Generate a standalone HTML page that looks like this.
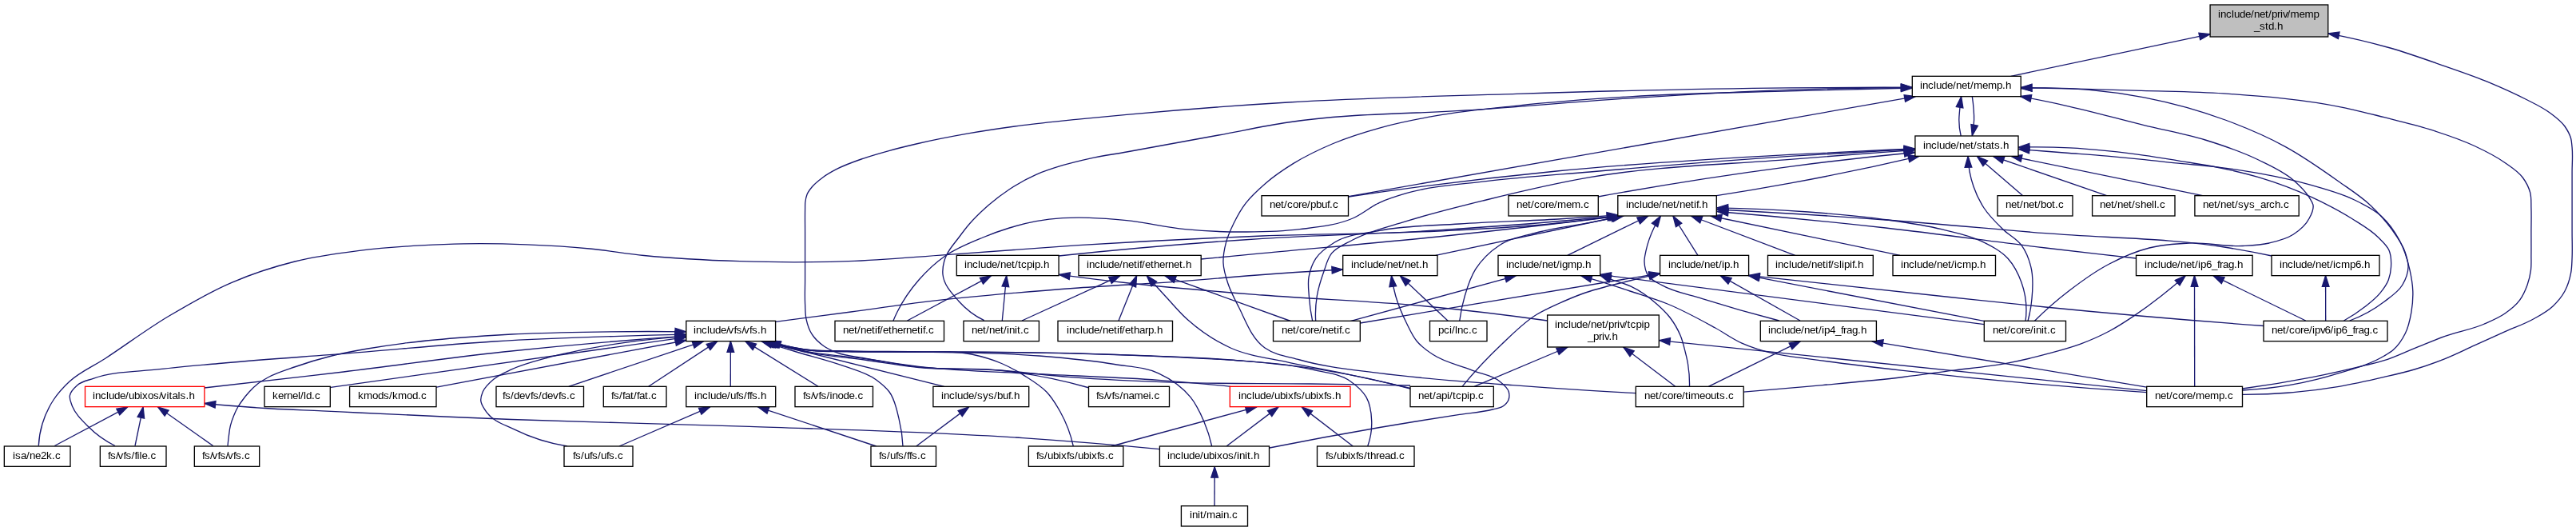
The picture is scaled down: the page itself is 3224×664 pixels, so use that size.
<!DOCTYPE html>
<html><head><meta charset="utf-8"><title>include/net/priv/memp_std.h</title>
<style>html,body{margin:0;padding:0;background:#fff}svg{display:block}text{font-family:"Liberation Sans",sans-serif;font-size:13.4px;fill:#000;font-variant-ligatures:none;font-kerning:none}.t{filter:url(#gs)}.e{fill:none;stroke:#191970;stroke-width:1.33}.a{fill:#191970;stroke:#191970;stroke-width:1.33}.n{fill:#fff;stroke:#000;stroke-width:1.33}.r{fill:#fff;stroke:#f00;stroke-width:1.33}.g{fill:#bfbfbf;stroke:#000;stroke-width:1.33}</style></head><body>
<svg width="3224" height="664" viewBox="0 0 3224 664">
<defs><filter id="gs" x="0" y="0" width="3224" height="664" filterUnits="userSpaceOnUse" color-interpolation-filters="sRGB"><feColorMatrix type="saturate" values="0"/></filter></defs>
<rect x="0" y="0" width="3224" height="664" fill="#fff"/>
<g>
<path class="e" d="M68.3,557.5L159.8,508.8"/>
<polygon class="a" points="159.8,508.8 149.8,519 145.8,511.3"/>
<path class="e" d="M169,557.5L179.1,508.9"/>
<polygon class="a" points="179.1,508.9 180.6,523.1 172.1,521.3"/>
<path class="e" d="M266.7,557.5L197.5,508.8"/>
<polygon class="a" points="197.5,508.8 211.1,513.1 206.1,520.2"/>
<path class="e" d="M1451,561.6C1394.1,556.2 1337.1,551.6 1280,547.7C1166.2,539.9 1052,537.3 938,533.3C838.7,529.8 739.3,528.3 640,524.5C575.8,522 511.7,519 447.5,516C432.7,515.3 417.8,514.6 403,513.9C382,512.9 361,512.2 340,511C312,509.3 284,507.2 256,504.5"/>
<polygon class="a" points="256,504.5 270,501.5 269.1,510.1"/>
<path class="e" d="M48.3,557.5C48.7,548.2 50.3,538.9 53,530C56.2,519.4 60.9,509.2 67,500C72.6,491.5 79.6,483.9 87,477C100,464.9 116.9,457.9 131.8,448.2C158.3,430.9 183.7,411.7 210.9,395.5C236.6,380.2 262.5,365 290,353.3C315.5,342.4 342.1,333.7 369,327C394.9,320.6 421.5,317.1 448,313.7C474.2,310.4 500.6,308.4 527,306.9C544.7,305.9 562.3,305.1 580,304.8C606.3,304.3 632.7,304.8 659,305.8C685.4,306.8 711.7,308.4 738,311C760.7,313.2 783.3,317.2 806,319.5C845.9,323.5 885.9,325.4 926,326.7C948.7,327.4 971.3,327.8 994,327.8C1016.7,327.8 1039.3,327.5 1062,326.7C1102.7,325.3 1143.3,321.4 1184,318.6C1239.3,314.8 1294.6,310.2 1350,306.7C1426.6,301.9 1503.3,298 1580,295C1653.3,292.2 1726.7,292.7 1800,289C1850,286.5 1900.2,284.3 1950,279C1975.1,276.4 2000.2,273.2 2025.2,269.6"/>
<polygon class="a" points="2025.2,269.6 2012.4,275.9 2011.1,267.2"/>
<path class="e" d="M144,557.5C131.5,551.3 119.8,542.9 110,533C102.2,525.2 93.7,517.1 90,506.7C88.7,502.9 86.8,499 87.3,495C88,489.6 92.6,485.3 96.7,481.7C102.1,476.9 109.9,475.7 116.7,473.3C143.1,463.8 172.2,465 200,461.7C226.6,458.6 253.3,456.4 280,454C332.5,449.3 385.1,445.9 437.6,441.7C497.7,436.9 557.6,430.7 617.8,427C670.3,423.8 722.8,421.9 775.4,420.3C803.1,419.4 830.9,418.7 858.6,418.2"/>
<polygon class="a" points="858.6,418.2 845.1,422.8 844.9,414.1"/>
<path class="e" d="M285,557.5C285.4,553.3 285.8,549.2 286.4,545C286.9,540.9 287.3,536.7 288.3,532.7C289.3,528.4 290.8,524.1 292.5,520C294,516.2 295.7,512.5 297.7,509C299.5,505.9 301.6,502.9 303.8,500C306.2,496.7 308.8,493.5 311.5,490.5C314.9,486.7 318.5,483.1 322.5,480C326.8,476.7 331.5,474.1 336.3,471.5C346.9,465.8 358.6,462.5 370,458.5C384.8,453.3 399.9,448.8 415.1,445C429.9,441.3 445,438.6 460.1,436C475.1,433.4 490.1,431.2 505.2,429.3C527.6,426.4 550.2,424.4 572.7,422.5C595.2,420.6 617.7,419.1 640.3,418C670.3,416.5 700.4,415.9 730.4,415.3C773.1,414.5 815.9,414.3 858.6,414.8"/>
<polygon class="a" points="858.6,414.8 845,419 845.1,410.3"/>
<path class="e" d="M255.6,485C313.8,478.6 371.9,471.9 430,465C496.7,457 563.2,447.1 630,440C706.1,431.9 782.3,425.3 858.6,420.2"/>
<polygon class="a" points="858.6,420.2 845.3,425.4 844.7,416.8"/>
<path class="e" d="M414,484.4L858.6,421.7"/>
<polygon class="a" points="858.6,421.7 845.7,427.9 844.5,419.3"/>
<path class="e" d="M545,484.3L859,425.5"/>
<polygon class="a" points="859,425.5 846.4,432.3 844.8,423.7"/>
<path class="e" d="M710,558C686.8,554.4 664,547.1 643,536.7C631.5,531 617.7,527 610,516.7C606.3,511.7 601.7,506.2 601.7,500C601.7,496.6 602.9,493.2 604.2,490C606.9,483.6 612.5,478.8 617.8,474.3C624.4,468.8 632.5,465.5 640.3,461.9C654.6,455.2 670.1,451.5 685.3,447.3C700.2,443.2 715.3,440.2 730.4,437.2C745.3,434.2 760.3,431.5 775.4,429.3C803,425.2 830.8,422.4 858.6,420.9"/>
<polygon class="a" points="858.6,420.9 845.3,426 844.8,417.3"/>
<path class="e" d="M711.7,483.3L880.5,426.6"/>
<polygon class="a" points="880.5,426.6 869,435.1 866.2,426.8"/>
<path class="e" d="M811.7,483.3L897.9,426.6"/>
<polygon class="a" points="897.9,426.6 888.9,437.7 884.1,430.4"/>
<path class="e" d="M914.3,483.3L914.4,426.7"/>
<polygon class="a" points="914.4,426.7 918.7,440.3 910,440.3"/>
<path class="e" d="M1024,483.3L932.8,426.6"/>
<polygon class="a" points="932.8,426.6 946.6,430.1 942.1,437.5"/>
<path class="e" d="M775,558L888.7,508.8"/>
<polygon class="a" points="888.7,508.8 877.9,518.2 874.5,510.2"/>
<path class="e" d="M1096.7,558L948.5,508.8"/>
<polygon class="a" points="948.5,508.8 962.8,509 960,517.2"/>
<path class="e" d="M1146.7,558L1212.6,508.9"/>
<polygon class="a" points="1212.6,508.9 1204.3,520.5 1199.1,513.5"/>
<path class="e" d="M1130,558C1129.5,546.3 1127.8,534.6 1125,523.3C1122.1,511.9 1120.1,499.4 1113,490C1108.6,484.1 1102.6,479.4 1096.7,475C1084,465.6 1067.9,462.1 1053,456.7C1035.7,450.4 1017.6,446.3 1000,441C984.3,436.3 968.7,431.5 953,426.7"/>
<polygon class="a" points="953,426.7 967.3,426.5 964.7,434.9"/>
<path class="e" d="M1181.7,483.3L954.5,426.7"/>
<polygon class="a" points="954.5,426.7 968.7,425.8 966.6,434.2"/>
<path class="e" d="M1363.3,485C1326.3,474.5 1288.2,467.1 1250,463C1216.8,459.4 1183.2,462.7 1150,459.5C1127.2,457.3 1104.7,453.1 1082,450C1057,446.6 1031.7,445.1 1007,440C989.8,436.4 972.8,432 956,426.7"/>
<polygon class="a" points="956,426.7 970.3,426.6 967.7,434.9"/>
<path class="e" d="M1540,483.3C1510,480.2 1480,477.5 1450,475.3C1400.1,471.6 1350,470.5 1300,467.7C1250,464.9 1199.8,464.2 1150,458.3C1127.3,455.6 1104.7,451.6 1082,448.5C1057,445.1 1031.7,443.9 1007,439C990.3,435.7 973.8,431.6 957.5,426.7"/>
<polygon class="a" points="957.5,426.7 971.8,426.4 969.3,434.8"/>
<path class="e" d="M1343.3,558C1340,543 1334.5,528.4 1327,515C1322.1,506.3 1316.9,497.6 1310,490.3C1302,481.8 1291.7,475.8 1281.8,469.6C1272.8,463.9 1263.4,458.7 1253.6,454.5C1241.6,449.3 1228.8,445.7 1216,443C1190.6,437.6 1164,440.8 1138,440.3C1112,439.8 1086,440.5 1060,439.8C1042.3,439.3 1024.5,440 1007,437.6C990.7,435.4 974.6,431.7 959,426.7"/>
<polygon class="a" points="959,426.7 973.3,426.7 970.6,435"/>
<path class="e" d="M1516.7,558C1514.4,547.3 1511,536.8 1506.7,526.7C1502.2,516.2 1497.2,505.6 1490,496.7C1479.5,483.7 1465.1,473.8 1450,466.8C1433,458.9 1413.3,458.6 1394.8,455.5C1363.5,450.2 1331.7,447.6 1300,445C1246.2,440.6 1192,440.8 1138,440C1112,439.6 1086,440.1 1060,439.4C1042.3,438.9 1024.5,439.6 1007,437.2C991.3,435 975.6,431.5 960.5,426.7"/>
<polygon class="a" points="960.5,426.7 974.8,426.7 972.1,435"/>
<path class="e" d="M1711.7,558C1715.3,548.1 1717.1,537.3 1716.7,526.7C1716.4,516.5 1715,505.6 1710,496.7C1705.4,488.5 1697.7,482.1 1690,476.7C1675.8,466.7 1656.9,465.7 1640,461.7C1607.3,454 1573.4,452.8 1540,450C1506.7,447.2 1473.3,446.4 1440,445C1406.7,443.6 1373.3,442.6 1340,441.7C1272.7,440 1205.3,440.2 1138,439.6C1112,439.4 1086,439.7 1060,439C1042.3,438.5 1024.5,439.2 1007,436.8C991.8,434.7 976.7,431.3 962,426.7"/>
<polygon class="a" points="962,426.7 976.3,426.6 973.7,434.9"/>
<path class="e" d="M1765,486C1730.4,476.7 1695.3,469.1 1660,463.3C1626.9,457.9 1593.4,454.6 1560,451.7C1520.1,448.2 1480,446.9 1440,445.2C1406.7,443.8 1373.3,442.7 1340,441.9C1272.7,440.2 1205.3,440.7 1138,440C1112,439.7 1086,439.9 1060,439.2C1042.3,438.7 1024.5,439.6 1007,437C992.3,434.8 977.6,431.4 963.5,426.7"/>
<polygon class="a" points="963.5,426.7 977.8,426.8 975,435.1"/>
<path class="e" d="M1765,482C1723.3,481.2 1681.7,480.6 1640,480C1584.3,479.2 1528.6,480.1 1473,478.3C1428.6,476.9 1384.3,475.1 1340,471.7C1310,469.4 1280.1,465.1 1250,463C1216.7,460.7 1183.1,462.7 1150,459C1127.1,456.4 1104.5,452 1081.8,447.8C1070.5,445.7 1058.7,445.3 1048,441.2C1042.1,438.9 1036.2,436.4 1031,432.7C1025.2,428.6 1019.8,423.7 1016,417.7C1012.4,412 1010.4,405.4 1009,398.8C1007.7,392.7 1007.9,386.3 1007.6,380C1007.1,370 1007.6,360 1007.6,350C1007.6,340 1007.6,330 1007.6,320C1007.6,310 1007.6,300 1007.6,290C1007.6,280.7 1007.4,271.3 1007.6,262C1007.7,259.1 1007.5,256.2 1007.8,253.3C1008.2,249.9 1008.7,246.5 1010,243.3C1011.5,239.6 1014.1,236.4 1016.7,233.3C1020.5,228.8 1025.3,225.2 1030,221.7C1035.2,217.9 1041,214.7 1046.7,211.7C1057.3,206.1 1068.7,202.2 1080,198.3C1090.9,194.5 1102.1,191.4 1113.3,188.3C1124.4,185.3 1135.5,182.6 1146.7,180C1168.8,174.9 1191,170.6 1213.3,166.7C1235.4,162.8 1257.7,159.6 1280,156.7C1302.2,153.8 1324.4,151.6 1346.7,149.3C1367.8,147.1 1388.9,145.2 1410,143.3C1477.3,137.2 1544.6,132 1612,128C1707.2,122.3 1802.6,120.2 1898,117.3C2012,113.8 2126,110.8 2240,109.8C2291,109.3 2342,109.2 2393,109.3"/>
<polygon class="a" points="2393,109.3 2379.4,113.6 2379.4,104.9"/>
<path class="e" d="M1391,558L1572.7,508.9"/>
<polygon class="a" points="1572.7,508.9 1560.7,516.6 1558.4,508.2"/>
<path class="e" d="M1535,558L1600,508.9"/>
<polygon class="a" points="1600,508.9 1591.8,520.6 1586.5,513.6"/>
<path class="e" d="M1693.3,558L1629.2,508.9"/>
<polygon class="a" points="1629.2,508.9 1642.6,513.7 1637.4,520.6"/>
<path class="e" d="M1520,632.7L1520.2,583.6"/>
<polygon class="a" points="1520.2,583.6 1524.5,597.2 1515.8,597.2"/>
<path class="e" d="M1589,560C1634.8,550.9 1680.7,542.4 1726.7,534.5C1760,528.8 1793.3,523.5 1826.7,518.3C1840.5,516.2 1854.6,515.6 1868,512C1872.4,510.8 1877.3,510.6 1881,508C1883.9,506 1886.7,503.3 1888,500C1889.2,496.9 1889.1,493.2 1888.3,490C1886.9,484.3 1881.2,480.5 1876.7,476.7C1867.5,469 1854.4,467.8 1843.3,463.3C1826.6,456.6 1808.2,453.3 1793.3,443.3C1786.1,438.5 1778.9,433.3 1773.3,426.7C1767.5,419.8 1764,411.3 1760,403.3C1754.7,392.6 1750,381.5 1746.7,370C1744.4,361.8 1742.6,353.3 1741.5,344.8"/>
<polygon class="a" points="1741.5,344.8 1747.6,357.7 1738.9,358.8"/>
<path class="e" d="M2047.5,491.7C2028.3,490.6 2009.2,489.5 1990,488.3C1957.7,486.3 1925.3,484 1893,481.7C1870.9,480.1 1848.8,478.6 1826.7,476.7C1793.3,473.9 1759.9,471.1 1726.7,466.7C1693.2,462.2 1659.2,459.3 1626.7,450C1611.9,445.8 1595.6,443.9 1583,435C1566.3,423.2 1559.3,401.5 1550,383.3C1545.1,373.8 1540,364.2 1536.7,354C1534,345.8 1531.4,337.3 1531,328.7C1530.6,320.3 1532.2,311.9 1534.3,303.8C1536.5,295.2 1540.3,287 1544.2,279C1548.5,270.3 1553.2,261.8 1559.1,254.1C1566.2,244.8 1575.1,236.9 1584,229.2C1594.8,219.9 1606.7,211.9 1618.8,204.4C1634.6,194.7 1651.4,186.7 1668.5,179.5C1687.8,171.4 1708,165.2 1728.2,159.6C1751.1,153.3 1774.4,148.8 1797.8,144.7C1830.7,138.9 1864.1,135.8 1897.3,132.3C1944.8,127.2 1992.4,123.7 2040,120.8C2106.6,116.7 2173.3,115.7 2240,113.8C2291,112.3 2342,111 2393,110"/>
<polygon class="a" points="2393,110 2379.5,114.6 2379.3,105.9"/>
<path class="e" d="M1231.7,400.7C1219.8,394.9 1208.8,386.6 1200,376.7C1191.4,367 1181.1,356.2 1180,343.3C1179.5,337.8 1180.2,332 1181.7,326.7C1182.5,323.8 1183.7,321 1185,318.3C1188.7,310.4 1194.8,304 1200,297C1204.3,291.2 1208.6,285.4 1213.3,280C1219.5,272.9 1226.3,266.3 1233.3,260C1242.7,251.5 1252.7,243.7 1263.3,236.7C1273.9,229.7 1285.1,223.4 1296.7,218.3C1307.5,213.5 1318.7,210.1 1330,206.7C1341,203.4 1352.1,200.8 1363.3,198.3C1378.7,194.9 1394.4,192.8 1410,190C1448.4,183.1 1486.7,176 1525,169C1554,163.7 1582.8,157.4 1612,153C1690.1,141.1 1769.8,142.8 1848.6,137.2C1914.9,132.5 1981.1,126.5 2047.5,122.3C2111.6,118.2 2175.8,114.4 2240,112.3C2291,110.6 2342,109.7 2393,109.5"/>
<polygon class="a" points="2393,109.5 2379.4,113.9 2379.4,105.2"/>
<path class="e" d="M1688,245.6L2397.2,120.6"/>
<polygon class="a" points="2397.2,120.6 2384.6,127.2 2383.1,118.7"/>
<path class="e" d="M2454.2,170C2452.6,163.5 2451.8,156.7 2451.8,150C2451.8,146 2452.3,142 2452.6,138C2453.1,132.2 2453.8,126.5 2454.6,120.8"/>
<polygon class="a" points="2454.6,120.8 2456.9,134.9 2448.3,133.6"/>
<path class="e" d="M2468.3,120.7C2469.2,126.4 2469.8,132.2 2470.2,138C2470.5,142 2470.7,146 2470.6,150C2470.4,156.6 2469.7,163.2 2468.3,169.7"/>
<polygon class="a" points="2468.3,169.7 2466.9,155.5 2475.4,157.3"/>
<path class="e" d="M2516.7,95.3L2766.1,42.6"/>
<polygon class="a" points="2766.1,42.6 2753.7,49.7 2751.9,41.2"/>
<path class="e" d="M2806.5,493.3C2846.9,493.4 2887.5,490 2927.3,483.3C2946.3,480.1 2965.2,475.8 2984,471.4C2996.6,468.5 3009.3,465.7 3021.7,462C3034.5,458.2 3047,453.7 3059.4,448.8C3072.2,443.7 3084.5,437.5 3097,431.9C3109.6,426.2 3122.1,420.6 3134.7,414.9C3147.3,409.3 3160.5,404.9 3172.4,398C3180.3,393.5 3188.4,389.1 3195,382.9C3200.9,377.4 3206.2,371.1 3210,364C3213.8,357 3216.1,349.2 3217.6,341.4C3218.8,335.2 3218.8,328.9 3219.1,322.6C3219.6,311.7 3219.1,300.9 3219.1,290C3219.1,276.7 3219.1,263.3 3219.1,250C3219.1,238.3 3219.1,226.7 3219.1,215C3219.1,204.8 3220.1,194.5 3219.1,184.3C3218.7,180.5 3218.6,176.7 3217.6,173C3216.1,167.6 3213.2,162.6 3210,158C3205.1,151.1 3198,146.1 3191.2,141C3181.9,134.1 3171.3,129.3 3161,124C3146.3,116.4 3131.2,109.7 3115.9,103.3C3097.4,95.6 3078.3,89.2 3059.4,82.6C3036.9,74.7 3014.4,66.6 2991.5,60C2965.9,52.7 2940,46.6 2913.8,41.8"/>
<polygon class="a" points="2913.8,41.8 2928,40 2926.4,48.5"/>
<path class="e" d="M2806.5,486C2835.8,482.2 2865,477.4 2894,471.7C2916.4,467.3 2938.6,462.2 2960.7,456.7C2968.5,454.8 2976.3,453.1 2984,450.7C2996.9,446.7 3009.1,440.6 3021.7,435.6C3034.3,430.6 3046.7,425.2 3059.4,420.6C3075.5,414.9 3092.6,412.2 3108.3,405.5C3117.3,401.6 3126.6,397.9 3134.7,392.3C3141.6,387.5 3148.5,382.2 3153.5,375.4C3157.7,369.7 3160.6,363.1 3163,356.5C3165.2,350.4 3166.7,344.1 3167.5,337.7C3168.3,331.4 3167.8,325.1 3167.9,318.8C3168,309.2 3167.9,299.6 3167.9,290C3167.9,280 3168.3,270 3167.9,260C3167.7,253.6 3168.3,247.1 3166.7,240.9C3164.9,234.1 3161.5,227.7 3157.3,222C3151.5,214.1 3142.7,208.9 3134.7,203.2C3123,194.9 3110,188.6 3097,182.5C3078.8,174 3059.6,167.7 3040.5,161.7C3021.9,155.8 3002.9,151.4 2984,146.7C2966.7,142.4 2949.5,137.9 2932,134.3C2883,124.2 2832.9,120.3 2783,116.9C2748.7,114.6 2714.3,114.4 2680,113.3C2629.8,111.7 2579.5,110.5 2529.3,109.5"/>
<polygon class="a" points="2529.3,109.5 2543,105.4 2542.8,114.1"/>
<path class="e" d="M2940.7,401C2956.1,395.3 2970.9,387.2 2984,377.2C2992.1,371 3001.3,365.3 3006.6,356.5C3010.7,349.7 3013.8,341.9 3014,334C3014.2,327.5 3012.1,321.1 3010,315C3006.5,304.6 2999.7,295.6 2993.3,286.7C2985.5,275.8 2976.4,265.9 2966.7,256.7C2954.6,245.3 2940.3,236.4 2926.7,226.7C2905.1,211.3 2883.3,196 2860,183.3C2836,170.2 2810.7,159.5 2785,150C2752.1,137.8 2718,128.5 2683.5,121.8C2632.9,112 2580.8,108.2 2529.3,110.5"/>
<polygon class="a" points="2529.3,110.5 2542.7,105.5 2543.1,114.2"/>
<path class="e" d="M2546,401.7C2559.8,388 2574.5,375.1 2590,363.3C2605.9,351.1 2622.2,339.2 2640,330C2655.9,321.7 2672.6,314.4 2690,310C2706.3,305.9 2723.2,304.8 2740,304C2762.2,303 2784.5,308.7 2806.7,307.5C2817.8,306.9 2829.1,306.5 2840,304C2850.3,301.6 2861.1,299.1 2870,293.3C2877.9,288.2 2885.7,281.7 2890,273.3C2892.7,268.2 2896,262.4 2895,256.7C2894.4,253 2891.9,249.9 2890,246.7C2884.9,238.3 2877.4,231.4 2870,225C2857.4,214.1 2841.7,207.3 2826.7,200C2805.4,189.6 2782.7,182 2760,175C2734.9,167.2 2709,162.8 2683.5,156.6C2650.3,148.5 2617.4,139.1 2584,131.8C2565.6,127.7 2547.1,124 2528.5,120.5"/>
<polygon class="a" points="2528.5,120.5 2542.7,118.7 2541.1,127.3"/>
<path class="e" d="M2806.5,488C2847.3,486.1 2888.3,478.9 2927.3,466.7C2946.6,460.7 2966.7,455.5 2984,445C2987.9,442.7 2991.9,440.4 2995.3,437.5C3001.8,431.9 3006.6,424.5 3010.4,416.8C3014.5,408.6 3016.3,399.4 3017.9,390.4C3019.4,381.7 3020.1,372.8 3019.8,364C3019.5,355.1 3017.9,346.3 3016,337.7C3013.1,324.7 3009.2,311.7 3002.8,300C2996.8,289 2989.3,278.4 2980,270C2970.4,261.3 2958.3,255.7 2946.7,250C2929.8,241.7 2911.4,236.9 2893.3,231.7C2871.4,225.4 2849.1,220.8 2826.7,216.7C2807.5,213.2 2788.3,210.3 2768.9,208.1C2756.4,206.7 2743.8,205.9 2731.2,204.7C2715.5,203.2 2699.9,201.3 2684.2,199.7C2668.5,198.1 2652.8,196.6 2637.1,195.2C2621.4,193.8 2605.7,192.7 2590,191.5C2568.8,189.8 2547.5,188.2 2526.3,186.5"/>
<polygon class="a" points="2526.3,186.5 2540.2,183.2 2539.5,191.9"/>
<path class="e" d="M2933.5,401C2943,395.9 2952.1,389.8 2960.6,383.1C2967,378 2973.5,372.9 2978.7,366.6C2982.9,361.5 2987,356.1 2989.3,350C2991.2,344.9 2992.2,339.4 2992.5,334C2992.9,327 2992.8,319.5 2990,313C2987.2,306.6 2981.6,301.9 2976.7,297C2967.1,287.3 2954.8,280.6 2943.3,273.3C2927.3,263.2 2910.4,254.6 2893.3,246.7C2871.8,236.8 2849.4,228.5 2826.7,221.7C2807.7,216 2788.3,211.7 2768.9,208C2756.4,205.6 2743.8,203.8 2731.2,201.8C2715.5,199.3 2699.9,196.5 2684.2,194.3C2668.5,192.1 2652.8,190.3 2637.1,188.7C2621.4,187.1 2605.7,185.7 2590,184.9C2568.8,183.8 2547.5,183.6 2526.3,184.2"/>
<polygon class="a" points="2526.3,184.2 2539.8,179.5 2540,188.2"/>
<path class="e" d="M2538,401.5C2540.5,392.3 2542.2,382.8 2543,373.3C2544.2,360 2545.1,346.2 2541.7,333.3C2539.3,323.9 2535.7,314.5 2530,306.7C2524,298.4 2514,293.8 2506.7,286.7C2498.2,278.4 2489.5,270 2483,260C2477.6,251.7 2473.2,242.7 2470,233.3C2465.8,221.2 2463.4,208.3 2463.1,195.5"/>
<polygon class="a" points="2463.1,195.5 2467.8,209 2459.1,209.2"/>
<path class="e" d="M2531.7,244.7L2474.4,195.5"/>
<polygon class="a" points="2474.4,195.5 2487.6,201.1 2481.9,207.7"/>
<path class="e" d="M2636.7,244.7L2494.6,195.5"/>
<polygon class="a" points="2494.6,195.5 2508.9,195.8 2506,204.1"/>
<path class="e" d="M2756.7,244.7L2516.8,195.3"/>
<polygon class="a" points="2516.8,195.3 2531,193.8 2529.2,202.3"/>
<path class="e" d="M1688,246C1774.4,233.2 1861.1,222.5 1948,214C2045.1,204.5 2142.6,198.8 2240,193.4C2292.2,190.5 2344.5,188 2396.8,186"/>
<polygon class="a" points="2396.8,186 2383.4,190.9 2383,182.2"/>
<path class="e" d="M1118,401C1119.5,397.3 1121.2,393.6 1123,390C1130.1,375.6 1139.4,362.1 1150,350C1159.8,338.8 1170.8,328.5 1183,320C1197.3,310 1213.9,303.6 1230,297C1240.9,292.5 1252,288.4 1263.3,285C1274.3,281.7 1285.4,278.8 1296.7,276.7C1307.7,274.7 1318.8,273.4 1330,272.7C1341.1,272 1352.2,272 1363.3,272.3C1378.9,272.7 1394.5,274.1 1410,275.7C1434.5,278.2 1458.5,284.3 1483,286.7C1508.6,289.2 1534.3,290.2 1560,290C1582.3,289.9 1604.6,289.5 1626.7,286.7C1649.1,283.9 1672.3,282 1693,273C1704.9,267.8 1714.9,258.7 1726.7,253.3C1737.4,248.4 1748.7,245 1760,241.7C1792.3,232.2 1826.5,230.8 1860,226.7C1903.2,221.4 1946.7,218.7 1990,215C2073.3,207.8 2156.6,200.8 2240,195.4C2292.2,192 2344.5,189.1 2396.8,186.6"/>
<polygon class="a" points="2396.8,186.6 2383.4,191.6 2383,182.9"/>
<path class="e" d="M1646.7,401.7C1646,391.1 1646.6,380.4 1648.3,370C1650,359.8 1653.2,349.8 1656.7,340C1659.6,332 1661.4,323.3 1666.7,316.7C1673.2,308.6 1683.9,304.9 1693,300C1713.8,288.8 1737.4,283.8 1760,276.7C1792.9,266.3 1826.5,258.2 1860,250C1903.1,239.4 1946.3,229.2 1990,221.7C2072.4,207.5 2156.6,206 2240,199.3C2292.2,195.1 2344.5,191.1 2396.8,187.5"/>
<polygon class="a" points="2396.8,187.5 2383.5,192.8 2382.9,184.1"/>
<path class="e" d="M2000,246C2079.6,231.4 2159.7,218.8 2240,208.3C2292.2,201.5 2344.6,195.5 2397,190.5"/>
<polygon class="a" points="2397,190.5 2383.9,196.1 2383,187.5"/>
<path class="e" d="M2148.3,244.7C2178.9,240 2209.5,234.8 2240,229.2C2294.3,219.2 2348.3,207.9 2402,195.3"/>
<polygon class="a" points="2402,195.3 2389.8,202.6 2387.8,194.2"/>
<path class="e" d="M1642.7,401.7C1640.5,391.3 1639,380.6 1638.3,370C1637.8,362.2 1636.7,354.4 1638,346.7C1639.4,338.5 1642.1,330.3 1646.7,323.3C1652.3,314.8 1661.3,308.7 1670,303.3C1686.6,293 1707.5,292.1 1726.7,288.3C1759.5,281.9 1793.3,282.3 1826.7,280C1867.8,277.2 1908.9,276.5 1950,274C1974.9,272.5 1999.9,270.7 2024.8,268.8"/>
<polygon class="a" points="2024.8,268.8 2011.6,274.2 2010.9,265.5"/>
<path class="e" d="M1325,320C1409.8,311 1494.9,303.8 1580,298.3C1653.3,293.6 1726.7,292.6 1800,288C1875.6,283.2 1951.1,277.2 2026.5,270"/>
<polygon class="a" points="2026.5,270 2013.4,275.6 2012.5,267"/>
<path class="e" d="M1503,324C1528.7,321.6 1554.3,319.1 1580,316.7C1653.3,309.8 1726.7,303.6 1800,296C1876.1,288.1 1952.1,279.4 2028,270"/>
<polygon class="a" points="2028,270 2015,276 2014,267.4"/>
<path class="e" d="M1796.7,319.3L2030,270"/>
<polygon class="a" points="2030,270 2017.6,277.1 2015.8,268.6"/>
<path class="e" d="M1826.7,401.7C1828,391 1830.2,380.3 1833.3,370C1836.7,358.5 1840.3,346.8 1846.7,336.7C1854.3,324.8 1864.9,314.4 1876.7,306.7C1891.4,297.1 1909.7,294.5 1926.7,290C1947.4,284.5 1968.9,282.4 1990,278.3C2004,275.6 2018,272.8 2032,270"/>
<polygon class="a" points="2032,270 2019.5,277 2017.8,268.4"/>
<path class="e" d="M1961.7,319.3L2062.9,270"/>
<polygon class="a" points="2062.9,270 2052.6,279.9 2048.8,272"/>
<path class="e" d="M2226.7,401C2194.2,392.6 2162,383.4 2130,373.3C2113.3,368 2095.2,365.5 2080,356.7C2074,353.3 2066.9,350.7 2063,345C2059.5,339.9 2058.2,333.2 2058,327C2057.9,322.5 2059.1,318.1 2060,313.7C2062.1,303.8 2065.6,294.1 2070,285C2072.5,279.8 2075.3,274.8 2078.4,270"/>
<polygon class="a" points="2078.4,270 2074.7,283.8 2067.4,279.1"/>
<path class="e" d="M2125,319.3L2093.9,270"/>
<polygon class="a" points="2093.9,270 2104.8,279.2 2097.5,283.8"/>
<path class="e" d="M2246.7,319.3L2116.5,270"/>
<polygon class="a" points="2116.5,270 2130.8,270.7 2127.7,278.9"/>
<path class="e" d="M2378,319.3L2141,270"/>
<polygon class="a" points="2141,270 2155.2,268.5 2153.4,277"/>
<path class="e" d="M2535,401.7C2537.2,385.6 2535.5,368.6 2530,353.3C2526.1,342.5 2520.7,331.8 2513,323.3C2504.2,313.6 2491.8,307.5 2480,301.7C2464.4,294 2446.9,290.8 2430,286.7C2408,281.3 2385.4,278.2 2363,275C2329.8,270.2 2296.4,267.5 2263,265C2225.1,262.2 2187,260.4 2149,259.8"/>
<polygon class="a" points="2149,259.8 2162.7,255.7 2162.5,264.4"/>
<path class="e" d="M2843.3,320C2825.6,316.3 2807.8,313 2790,310C2714.1,297.3 2636.7,298 2560,291.7C2493.3,286.3 2426.7,279.9 2360,275C2289.7,269.9 2219.4,265.5 2149,262"/>
<polygon class="a" points="2149,262 2162.8,258.3 2162.4,267"/>
<path class="e" d="M2673.3,323C2635.5,318.8 2597.8,314.5 2560,310C2493.3,302.1 2426.8,292.4 2360,285C2289.9,277.2 2219.6,270.3 2149.3,264.5"/>
<polygon class="a" points="2149.3,264.5 2163.2,261.3 2162.5,270"/>
<path class="e" d="M970.7,402.3C1002.1,398.3 1033.6,394.2 1065,390C1093.3,386.2 1121.6,381.8 1150,378.3C1216.4,370.1 1283.2,365 1350,360C1393.3,356.8 1436.7,355 1480,351.7C1506.7,349.7 1533.3,347 1560,345C1600.2,341.9 1640.4,339.2 1680.6,337"/>
<polygon class="a" points="1680.6,337 1667.3,342.1 1666.8,333.4"/>
<path class="e" d="M1812.7,401.7L1752.3,344.8"/>
<polygon class="a" points="1752.3,344.8 1765.2,351 1759.2,357.3"/>
<path class="e" d="M1615.3,401.5L1457.9,344.8"/>
<polygon class="a" points="1457.9,344.8 1472.2,345.3 1469.2,353.5"/>
<path class="e" d="M1400,401L1422.6,344.8"/>
<polygon class="a" points="1422.6,344.8 1421.6,359 1413.5,355.8"/>
<path class="e" d="M1279,401L1401.9,344.8"/>
<polygon class="a" points="1401.9,344.8 1391.3,354.4 1387.7,346.5"/>
<path class="e" d="M1765.7,485.7C1737.2,479 1708.6,472.7 1680,466.7C1657.8,462 1635.4,458.3 1613.3,453.3C1588.7,447.8 1562.9,445.4 1540,435C1520.7,426.2 1502.6,414.1 1486.7,400C1477,391.5 1468.8,381.4 1460,372C1451.7,363 1443.4,354 1435.3,344.8"/>
<polygon class="a" points="1435.3,344.8 1447.6,352.1 1441.1,357.9"/>
<path class="e" d="M1135.5,401L1240.4,344.8"/>
<polygon class="a" points="1240.4,344.8 1230.5,355.1 1226.4,347.4"/>
<path class="e" d="M1254.3,401L1259.7,344.8"/>
<polygon class="a" points="1259.7,344.8 1262.7,358.8 1254.1,357.9"/>
<path class="e" d="M1936.7,401C1884.6,393.7 1832.4,387.5 1780,382.5C1713.5,376.1 1646.6,374.3 1580,369C1525.5,364.7 1471,360.5 1416.7,354.5C1386.2,351.2 1355.7,347.5 1325.3,343.4"/>
<polygon class="a" points="1325.3,343.4 1339.4,340.9 1338.2,349.5"/>
<path class="e" d="M1690,401.7L1897.3,344.8"/>
<polygon class="a" points="1897.3,344.8 1885.3,352.6 1883,344.2"/>
<path class="e" d="M1702.3,404L2077.5,341.8"/>
<polygon class="a" points="2077.5,341.8 2064.8,348.3 2063.4,339.7"/>
<path class="e" d="M1830,483.3C1845.5,464.5 1862.2,446.7 1880,430C1893.8,417.1 1907.1,403.1 1923.3,393.3C1931.8,388.2 1940.9,384.1 1949.9,380C1959.8,375.5 1969.8,371.2 1980,367.5C1999.5,360.4 2019.9,356 2040,351C2052.5,347.9 2065,345 2077.5,342.2"/>
<polygon class="a" points="2077.5,342.2 2065.1,349.4 2063.3,340.9"/>
<path class="e" d="M1845,483.3L1962,434"/>
<polygon class="a" points="1962,434 1951.2,443.3 1947.8,435.3"/>
<path class="e" d="M2096.7,483.3L2031.7,434"/>
<polygon class="a" points="2031.7,434 2045.2,438.8 2039.9,445.7"/>
<path class="e" d="M2114.5,483.3C2114.7,473.8 2114,464.3 2112.5,455C2111.6,449.5 2110.3,444.2 2108.9,438.8C2107.3,432.5 2105.8,426 2103.3,420C2099.9,411.8 2095.4,404 2090,397C2085.1,390.7 2079.3,385.2 2073.3,380C2063.6,371.5 2052.9,363.7 2041.2,358.2C2033.7,354.6 2025.5,352.6 2017.7,349.8C2012.7,348 2007.7,346.1 2002.7,344.3"/>
<polygon class="a" points="2002.7,344.3 2017,344.9 2013.9,353.1"/>
<path class="e" d="M2686.7,490.6C2584.9,484.1 2483.2,475 2381.9,463.4C2341.5,458.8 2301,454.1 2260.7,448.3C2247.3,446.4 2233.6,445.3 2220.4,442.2C2206.6,439 2192.9,434.9 2180,429.1C2168.3,423.9 2157.9,416.1 2146.7,410C2127.1,399.3 2107.6,388.4 2086.9,380C2071.6,373.8 2055.7,369.2 2040,364C2026.7,359.6 2013.4,355.3 2000,351.2C1992.9,349 1985.7,346.8 1978.6,344.7"/>
<polygon class="a" points="1978.6,344.7 1992.9,344.4 1990.4,352.8"/>
<path class="e" d="M2483.3,405.7L2002.7,343.3"/>
<polygon class="a" points="2002.7,343.3 2016.7,340.7 2015.6,349.4"/>
<path class="e" d="M2484,401.6L2188.5,344.7"/>
<polygon class="a" points="2188.5,344.7 2202.7,343 2201,351.5"/>
<path class="e" d="M2833.3,407.5C2742.1,400.8 2651,393 2560,384C2520,380.1 2480,375.7 2440,371.5C2356.2,362.7 2272.4,353.6 2188.6,344.4"/>
<polygon class="a" points="2188.6,344.4 2202.6,341.6 2201.6,350.2"/>
<path class="e" d="M2253,401L2153.2,344.7"/>
<polygon class="a" points="2153.2,344.7 2167.2,347.6 2162.9,355.2"/>
<path class="e" d="M2138.3,483.3L2253.2,426.8"/>
<polygon class="a" points="2253.2,426.8 2242.9,436.7 2239.1,428.9"/>
<path class="e" d="M2686.7,484.2L2343.1,426.8"/>
<polygon class="a" points="2343.1,426.8 2357.2,424.8 2355.8,433.3"/>
<path class="e" d="M2686.7,488.6L2076.5,425.6"/>
<polygon class="a" points="2076.5,425.6 2090.5,422.7 2089.6,431.3"/>
<path class="e" d="M2182.2,490.2C2215.2,487.5 2248.1,484.7 2281,481.6C2314.7,478.5 2348.3,475.6 2381.9,471.5C2402.1,469.1 2422.2,466.1 2442.4,463.4C2465.3,460.4 2488.3,458.5 2511,454.3C2528.7,451 2546.2,446.9 2563.5,442.2C2577.1,438.5 2590.7,435 2603.9,430.1C2616.2,425.5 2628.4,420.2 2640,414C2650.6,408.4 2660.6,401.8 2670.6,395.1C2682.4,387.2 2693.8,378.8 2705,370C2715.3,361.9 2725.4,353.5 2735.2,344.7"/>
<polygon class="a" points="2735.2,344.7 2728,357 2722.2,350.5"/>
<path class="e" d="M2746.7,483.3L2746.5,344.7"/>
<polygon class="a" points="2746.5,344.7 2750.9,358.3 2742.2,358.3"/>
<path class="e" d="M2885.7,401L2770,344.7"/>
<polygon class="a" points="2770,344.7 2784.1,346.7 2780.3,354.6"/>
<path class="e" d="M2910.7,401L2910.6,344.7"/>
<polygon class="a" points="2910.6,344.7 2915,358.3 2906.3,358.3"/>
</g>
<g>
<rect class="g" x="2766.1" y="6" width="147.6" height="40"/>
<rect class="n" x="2393.3" y="95.33" width="135.9" height="25.34"/>
<rect class="n" x="2396.9" y="170" width="129.1" height="25.33"/>
<rect class="n" x="1579" y="244.67" width="108.5" height="25.33"/>
<rect class="n" x="1888" y="244.67" width="112.3" height="25.33"/>
<rect class="n" x="2024.8" y="244.67" width="123.5" height="25.33"/>
<rect class="n" x="2500" y="244.67" width="94" height="25.33"/>
<rect class="n" x="2618.6" y="244.67" width="103.4" height="25.33"/>
<rect class="n" x="2746.9" y="244.67" width="130.3" height="25.33"/>
<rect class="n" x="1197.3" y="319.33" width="127.8" height="25.34"/>
<rect class="n" x="1350" y="319.33" width="153.2" height="25.34"/>
<rect class="n" x="1680.7" y="319.33" width="118.3" height="25.34"/>
<rect class="n" x="1875" y="319.33" width="127.7" height="25.34"/>
<rect class="n" x="2077.6" y="319.33" width="111" height="25.34"/>
<rect class="n" x="2212.5" y="319.33" width="131.8" height="25.34"/>
<rect class="n" x="2369" y="319.33" width="128.5" height="25.34"/>
<rect class="n" x="2673.5" y="319.33" width="145.6" height="25.34"/>
<rect class="n" x="2843" y="319.33" width="135" height="25.34"/>
<rect class="n" x="858.8" y="401.33" width="111.8" height="25.34"/>
<rect class="n" x="1045" y="401.33" width="136.5" height="25.34"/>
<rect class="n" x="1206" y="401.33" width="94.4" height="25.34"/>
<rect class="n" x="1324" y="401.33" width="143.5" height="25.34"/>
<rect class="n" x="1593.5" y="401.33" width="108.8" height="25.34"/>
<rect class="n" x="1789.5" y="401.33" width="71.5" height="25.34"/>
<rect class="n" x="1936.6" y="394" width="139.7" height="40"/>
<rect class="n" x="2203.3" y="401.33" width="145.1" height="25.34"/>
<rect class="n" x="2483.3" y="401.33" width="102.2" height="25.34"/>
<rect class="n" x="2833" y="401.33" width="155" height="25.34"/>
<rect class="r" x="106.5" y="483.33" width="149.4" height="25.34"/>
<rect class="n" x="331" y="483.33" width="82.3" height="25.34"/>
<rect class="n" x="437.6" y="483.33" width="108.4" height="25.34"/>
<rect class="n" x="621" y="483.33" width="109.5" height="25.34"/>
<rect class="n" x="755.3" y="483.33" width="78.7" height="25.34"/>
<rect class="n" x="858.8" y="483.33" width="111.9" height="25.34"/>
<rect class="n" x="995" y="483.33" width="97.5" height="25.34"/>
<rect class="n" x="1167.9" y="483.33" width="119.8" height="25.34"/>
<rect class="n" x="1362.5" y="483.33" width="101" height="25.34"/>
<rect class="r" x="1539.3" y="483.33" width="150.7" height="25.34"/>
<rect class="n" x="1765" y="483.33" width="104.3" height="25.34"/>
<rect class="n" x="2047.3" y="483.33" width="134.9" height="25.34"/>
<rect class="n" x="2686.7" y="483.33" width="119.8" height="25.34"/>
<rect class="n" x="5.33" y="558" width="82.67" height="25.33"/>
<rect class="n" x="125.33" y="558" width="82.67" height="25.33"/>
<rect class="n" x="243.33" y="558" width="81.34" height="25.33"/>
<rect class="n" x="706" y="558" width="86" height="25.33"/>
<rect class="n" x="1090" y="558" width="81.5" height="25.33"/>
<rect class="n" x="1287.4" y="558" width="118.4" height="25.33"/>
<rect class="n" x="1451.4" y="558" width="137.1" height="25.33"/>
<rect class="n" x="1648.5" y="558" width="121.5" height="25.33"/>
<rect class="n" x="1478.4" y="632.67" width="83.1" height="25.33"/>
</g>
<g class="t">
<text x="2776 2779 2786 2793 2796 2803 2810 2817 2821 2828 2835 2839 2843 2850 2854 2857 2862.5 2866.5 2877.5 2884.5 2895.5" y="22">include/net/priv/memp</text>
<text x="2821 2828 2835 2839 2846 2850" y="36.5">_std.h</text>
<text x="2403 2406 2413 2420 2423 2430 2437 2444 2448 2455 2462 2466 2470 2481 2488 2499 2506 2510" y="111">include/net/memp.h</text>
<text x="2407 2410 2417 2424 2427 2434 2441 2448 2452 2459 2466 2470 2474 2481 2485 2492 2496 2503 2507" y="186">include/net/stats.h</text>
<text x="1589 1596 1603 1607 1611 1618 1625 1629 1636 1640 1647 1654 1661 1664 1668" y="260">net/core/pbuf.c</text>
<text x="1898 1905 1912 1916 1920 1927 1934 1938 1945 1949 1960 1967 1978 1982" y="260">net/core/mem.c</text>
<text x="2035 2038 2045 2052 2055 2062 2069 2076 2080 2087 2094 2098 2102 2109 2116 2120 2123 2126 2130" y="260">include/net/netif.h</text>
<text x="2510 2517 2524 2528 2532 2539 2546 2550 2554 2561 2568 2572 2576" y="260">net/net/bot.c</text>
<text x="2628 2635 2642 2646 2650 2657 2664 2668 2672 2679 2686 2693 2696 2699 2703" y="260">net/net/shell.c</text>
<text x="2757 2764 2771 2775 2779 2786 2793 2797 2801 2808 2815 2822 2829 2836 2840 2847 2854 2858" y="260">net/net/sys_arch.c</text>
<text x="1207 1210 1217 1224 1227 1234 1241 1248 1252 1259 1266 1270 1274 1278 1285 1292 1295 1302 1306" y="335">include/net/tcpip.h</text>
<text x="1360 1363 1370 1377 1380 1387 1394 1401 1405 1412 1419 1423 1426 1429 1433 1440 1444 1451 1458 1462 1469 1476 1480 1484" y="335">include/netif/ethernet.h</text>
<text x="1691 1694 1701 1708 1711 1718 1725 1732 1736 1743 1750 1754 1758 1765 1772 1776 1780" y="335">include/net/net.h</text>
<text x="1885 1888 1895 1902 1905 1912 1919 1926 1930 1937 1944 1948 1952 1955 1962 1973 1980 1984" y="335">include/net/igmp.h</text>
<text x="2088 2091 2098 2105 2108 2115 2122 2129 2133 2140 2147 2151 2155 2158 2165 2169" y="335">include/net/ip.h</text>
<text x="2222 2225 2232 2239 2242 2249 2256 2263 2267 2274 2281 2285 2288 2291 2295 2302 2305 2308 2315 2318 2321 2325" y="335">include/netif/slipif.h</text>
<text x="2379 2382 2389 2396 2399 2406 2413 2420 2424 2431 2438 2442 2446 2449 2456 2467 2474 2478" y="335">include/net/icmp.h</text>
<text x="2684 2687 2694 2701 2704 2711 2718 2725 2729 2736 2743 2747 2751 2754 2761 2768 2775 2778 2782 2789 2796 2800" y="335">include/net/ip6_frag.h</text>
<text x="2853 2856 2863 2870 2873 2880 2887 2894 2898 2905 2912 2916 2920 2923 2930 2941 2948 2955 2959" y="335">include/net/icmp6.h</text>
<text x="868 871 878 885 888 895 902 909 911.5 918.5 921.5 928.5 931 938 941 948 952" y="417">include/vfs/vfs.h</text>
<text x="1055 1062 1069 1073 1077 1084 1091 1095 1098 1101 1105 1112 1116 1123 1130 1134 1141 1148 1152 1155 1158 1162" y="417">net/netif/ethernetif.c</text>
<text x="1216 1223 1230 1234 1238 1245 1252 1256 1260 1263 1270 1273 1277 1281" y="417">net/net/init.c</text>
<text x="1335 1338 1345 1352 1355 1362 1369 1376 1380 1387 1394 1398 1401 1404 1408 1415 1419 1426 1433 1437 1444 1448" y="417">include/netif/etharp.h</text>
<text x="1604 1611 1618 1622 1626 1633 1640 1644 1651 1655 1662 1669 1673 1676 1679 1683" y="417">net/core/netif.c</text>
<text x="1800 1807 1814 1817 1821 1824 1831 1838 1842" y="417">pci/lnc.c</text>
<text x="1946 1949 1956 1963 1966 1973 1980 1987 1991 1998 2005 2009 2013 2020 2024 2027 2032.5 2036.5 2040.5 2047.5 2054.5 2057.5" y="410">include/net/priv/tcpip</text>
<text x="1987 1994 2001 2005 2008 2013.5 2017.5" y="424.5">_priv.h</text>
<text x="2213 2216 2223 2230 2233 2240 2247 2254 2258 2265 2272 2276 2280 2283 2290 2297 2304 2307 2311 2318 2325 2329" y="417">include/net/ip4_frag.h</text>
<text x="2494 2501 2508 2512 2516 2523 2530 2534 2541 2545 2548 2555 2558 2562 2566" y="417">net/core/init.c</text>
<text x="2843 2850 2857 2861 2865 2872 2879 2883 2890 2894 2897 2904 2909.5 2916.5 2920.5 2923.5 2930.5 2937.5 2944.5 2947.5 2951.5 2958.5 2965.5 2969.5" y="417">net/core/ipv6/ip6_frag.c</text>
<text x="116 119 126 133 136 143 150 157 161 168 175 178 185 192 199 201.5 208.5 211.5 215.5 222.5 225.5 232.5 236.5" y="499">include/ubixos/vitals.h</text>
<text x="341 348 355 359 366 373 376 380 383 390 394" y="499">kernel/ld.c</text>
<text x="448 455 466 473 480 487 491 498 509 516 523 527" y="499">kmods/kmod.c</text>
<text x="629 632 639 643 650 657 664 667 674 678 685 692 699 702 709 713" y="499">fs/devfs/devfs.c</text>
<text x="765 768 775 779 782 789 793 797 800 807 811 815" y="499">fs/fat/fat.c</text>
<text x="869 872 879 886 889 896 903 910 914 921 924 931 935 938 941 948 952" y="499">include/ufs/ffs.h</text>
<text x="1005 1008 1015 1017.5 1024.5 1027.5 1034.5 1038.5 1041.5 1048.5 1055.5 1062.5 1069.5 1073.5" y="499">fs/vfs/inode.c</text>
<text x="1178 1181 1188 1195 1198 1205 1212 1219 1223 1230 1237 1244 1248 1255 1262 1265 1269" y="499">include/sys/buf.h</text>
<text x="1372 1375 1382 1384.5 1391.5 1394.5 1401.5 1405.5 1412.5 1419.5 1430.5 1437.5 1440.5 1444.5" y="499">fs/vfs/namei.c</text>
<text x="1550 1553 1560 1567 1570 1577 1584 1591 1595 1602 1609 1612 1619 1622 1629 1633 1640 1647 1650 1657 1660 1667 1671" y="499">include/ubixfs/ubixfs.h</text>
<text x="1775 1782 1789 1793 1797 1804 1811 1814 1818 1822 1829 1836 1839 1846 1850" y="499">net/api/tcpip.c</text>
<text x="2058 2065 2072 2076 2080 2087 2094 2098 2105 2109 2113 2116 2127 2134 2141 2148 2152 2159 2163" y="499">net/core/timeouts.c</text>
<text x="2697 2704 2711 2715 2719 2726 2733 2737 2744 2748 2759 2766 2777 2784 2788" y="499">net/core/memp.c</text>
<text x="16 19 26 33 37 44 51 58 65 69" y="574">isa/ne2k.c</text>
<text x="135 138 145 147.5 154.5 157.5 164.5 168.5 171.5 174.5 177.5 184.5 188.5" y="574">fs/vfs/file.c</text>
<text x="253 256 263 265.5 272.5 275.5 282.5 285 292 295 302 306" y="574">fs/vfs/vfs.c</text>
<text x="717 720 727 731 738 741 748 752 759 762 769 773" y="574">fs/ufs/ufs.c</text>
<text x="1100 1103 1110 1114 1121 1124 1131 1135 1138 1141 1148 1152" y="574">fs/ufs/ffs.c</text>
<text x="1297 1300 1307 1311 1318 1325 1328 1335 1338 1345 1349 1356 1363 1366 1373 1376 1383 1387" y="574">fs/ubixfs/ubixfs.c</text>
<text x="1461 1464 1471 1478 1481 1488 1495 1502 1506 1513 1520 1523 1530 1537 1544 1548 1551 1558 1561 1565 1569" y="574">include/ubixos/init.h</text>
<text x="1659 1662 1669 1673 1680 1687 1690 1697 1700 1707 1711 1715 1722 1726 1733 1740 1747 1751" y="574">fs/ubixfs/thread.c</text>
<text x="1489 1492 1499 1502 1506 1510 1521 1528 1531 1538 1542" y="648">init/main.c</text>
</g>
</svg></body></html>
